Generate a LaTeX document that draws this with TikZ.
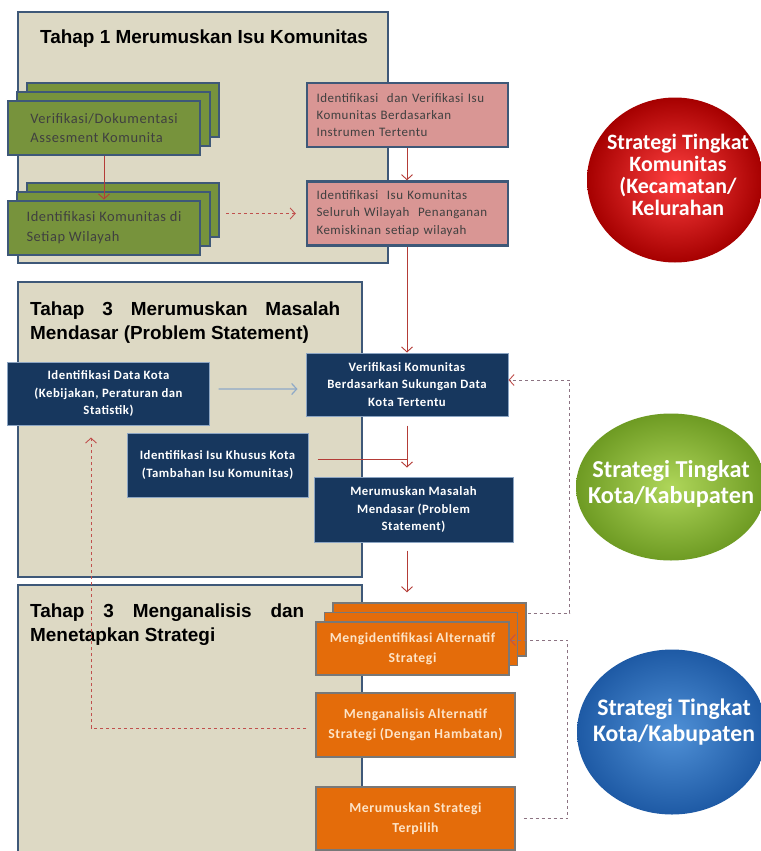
\documentclass[tikz,border=0pt]{standalone}
\usepackage{fontspec}
\setmainfont{Carlito}
\newfontfamily\headfont{Liberation Sans}
\newfontfamily\boxfont{Carlito}[LetterSpace=4]
\usepackage{tikz}
\usetikzlibrary{arrows.meta,positioning,shapes.geometric,shadows}
\definecolor{panelbg}{RGB}{221,217,196}
\definecolor{panelline}{RGB}{62,88,120}
\definecolor{oliveg}{RGB}{119,147,60}
\definecolor{rosepk}{RGB}{217,150,148}
\definecolor{navybx}{RGB}{23,55,94}
\definecolor{navyline}{RGB}{140,165,195}
\definecolor{orangebx}{RGB}{228,108,10}
\definecolor{orangeline}{RGB}{120,120,120}
\definecolor{peachtxt}{RGB}{253,228,200}
\definecolor{arrred}{RGB}{180,60,55}
\definecolor{dashred}{RGB}{192,80,77}
\definecolor{dashgrey}{RGB}{140,115,130}
\definecolor{steelarr}{RGB}{142,169,200}
\tolerance=9999

\begin{document}
\begin{tikzpicture}[x=1bp,y=-1bp,
  panel/.style={draw=panelline,line width=2bp,fill=panelbg},
  headtxt/.style={font=\headfont\bfseries\fontsize{19}{24}\selectfont,
    inner sep=0pt,anchor=north west,align=justify},
  greenbox/.style={draw=panelline,line width=2bp,fill=oliveg,minimum width=192bp,
    minimum height=54bp,align=left,text=black!75,
    font=\boxfont\fontsize{14.5}{19.5}\selectfont,
    copy shadow={shadow xshift=19bp,shadow yshift=18bp},
    copy shadow={shadow xshift=9.5bp,shadow yshift=9bp}},
  pinkbox/.style={draw=panelline,line width=2.5bp,fill=rosepk,minimum width=201bp,
    minimum height=64bp,text width=182bp,align=left,text=black!75,
    font=\boxfont\fontsize{13}{17.5}\selectfont},
  navybox/.style={draw=navyline,line width=1bp,fill=navybx,minimum width=202bp,
    minimum height=63bp,align=center,text=white,
    font=\boxfont\bfseries\fontsize{12.8}{17.5}\selectfont},
  orangebox/.style={draw=orangeline,line width=1.5bp,fill=orangebx,minimum width=199bp,
    minimum height=64bp,align=center,text=peachtxt,
    font=\boxfont\bfseries\fontsize{13.8}{20}\selectfont},
  oval/.style={ellipse,inner sep=0pt},
  ovaltxt/.style={align=center,text=white,inner sep=0pt,
    font=\bfseries\fontsize{24.4}{26.5}\selectfont},
  arr/.style={draw=arrred,line width=0.9bp,-{Straight Barb[length=5bp,width=11bp]}},
  bluearr/.style={draw=steelarr,line width=1.2bp,-{Straight Barb[length=5bp,width=11bp]}},
  reddash/.style={draw=dashred,line width=0.9bp,dashed,-{Straight Barb[length=5bp,width=11bp]}},
  loopdash/.style={draw=dashgrey,line width=0.9bp,dashed,
    -{Straight Barb[length=5bp,width=11bp,color=dashred]}}]
  \clip (0,0) rectangle (761,851);
  \fill[white] (0,0) rectangle (761,851);

  % tahap panels
  \draw[panel] (18,12) rectangle (388,263);
  \draw[panel] (18,282) rectangle (362,577);
  \draw[panel] (18,585) rectangle (362,880);
  \node[headtxt,anchor=base west,align=left] (head1) at (40,43) {Tahap 1 Merumuskan Isu Komunitas};
  \node[headtxt,text width=310bp] (head2) at (30,302) {Tahap 3 Merumuskan Masalah Mendasar (Problem Statement)};
  \node[headtxt,text width=274bp] (head3) at (30,604) {Tahap 3 Menganalisis dan Menetapkan Strategi};

  % tahap 1
  \node[greenbox] (verdok) at (104,128) {Verifikasi/Dokumentasi\\Assesment Komunita};
  \node[greenbox] (idkom) at (104,227.5) {Identifikasi Komunitas di\\Setiap Wilayah};
  \node[pinkbox] (idver) at (407.5,115) {Identifikasi\ \ dan Verifikasi Isu\\Komunitas Berdasarkan\\Instrumen Tertentu};
  \node[pinkbox] (idisu) at (407.5,213.5) {Identifikasi\ \ Isu Komunitas\\Seluruh Wilayah\ \ Penanganan\\Kemiskinan setiap wilayah};

  % tahap 3 masalah
  \node[navybox,minimum width=201bp] (datakota) at (108.5,393.5) {Identifikasi Data Kota\\(Kebijakan, Peraturan dan\\Statistik)};
  \node[navybox] (verkom) at (407,384.5) {Verifikasi Komunitas\\Berdasarkan Sukungan Data\\Kota Tertentu};
  \node[navybox,minimum width=181bp,minimum height=64bp] (isukhusus) at (217.5,465) {Identifikasi Isu Khusus Kota\\(Tambahan Isu Komunitas)};
  \node[navybox,minimum width=199bp,minimum height=65bp] (masalah) at (413.5,509.5) {Merumuskan Masalah\\Mendasar (Problem\\Statement)};

  % tahap 3 strategi
  \node[orangebox,minimum width=193bp,minimum height=53bp,
    copy shadow={shadow xshift=17bp,shadow yshift=19bp},
    copy shadow={shadow xshift=8.5bp,shadow yshift=9.5bp}] (altstrat) at (412.5,648.5) {Mengidentifikasi Alternatif\\Strategi};
  \node[orangebox] (analisis) at (415.5,725) {Menganalisis Alternatif\\Strategi (Dengan Hambatan)};
  \node[orangebox,minimum height=63bp] (terpilih) at (415.5,818.5) {Merumuskan Strategi\\Terpilih};

  % tingkat strategi
  \node[oval,minimum width=176bp,minimum height=165bp,inner color=red!75!white,outer color=red!65!black] (tkomunitas) at (675,180) {};
  \node[ovaltxt,font=\bfseries\fontsize{22}{22}\selectfont] (tkomunitastxt) at ([xshift=3bp,yshift=5bp]tkomunitas.center) {Strategi Tingkat\\Komunitas\\(Kecamatan/\\Kelurahan};
  \node[oval,minimum width=190bp,minimum height=147bp,inner color={rgb,255:red,175;green,214;blue,90},
    outer color={rgb,255:red,110;green,155;blue,35}] (tkota) at (671,487) {};
  \node[ovaltxt] (tkotatxt) at ([yshift=3bp]tkota.center) {Strategi Tingkat\\Kota/Kabupaten};
  \node[oval,minimum width=190bp,minimum height=165bp,inner color={rgb,255:red,80;green,145;blue,215},
    outer color={rgb,255:red,30;green,90;blue,165}] (tkab) at (672,732) {};
  \node[ovaltxt,font=\bfseries\fontsize{23.8}{26}\selectfont] (tkabtxt) at ([xshift=2bp,yshift=10bp]tkab.center) {Strategi Tingkat\\Kota/Kabupaten};

  % connectors
  \draw[arr] (verdok) -- (idkom);
  \draw[reddash,shorten <=25bp,shorten >=10bp] (idkom.east |- idisu) -- (idisu.west);
  \draw[arr] (idver.south -| verkom) -- (idisu.north -| verkom);
  \draw[arr] (idisu.south -| verkom) -- (verkom);
  \draw[bluearr,shorten <=9bp,shorten >=8bp] ([yshift=4.5bp]datakota.east) -- ([yshift=-4.5bp]verkom.west);
  \draw[arr,shorten <=9bp,shorten >=9bp] (verkom.south) -- (verkom.south |- masalah.north);
  \draw[draw=arrred,line width=0.9bp,shorten <=9bp] ([yshift=6bp]isukhusus.east) -- ([yshift=6bp]verkom.south |- isukhusus.east);
  \draw[arr,shorten <=8bp,shorten >=29bp] (verkom.south |- masalah.south) -- (verkom.south |- altstrat.north);
  \draw[loopdash] ([xshift=18bp,yshift=35.5bp]altstrat.east) -- ++(42bp,0) |- ([yshift=4.5bp]verkom.east);
  \draw[loopdash] ([xshift=8bp]terpilih.east) -- ++(44bp,0) |- ([yshift=8.5bp]altstrat.east);
  \draw[reddash] ([xshift=-9bp,yshift=-3bp]analisis.west) -| ([xshift=-17.5bp,yshift=-12bp]datakota.south);
\end{tikzpicture}
\end{document}
